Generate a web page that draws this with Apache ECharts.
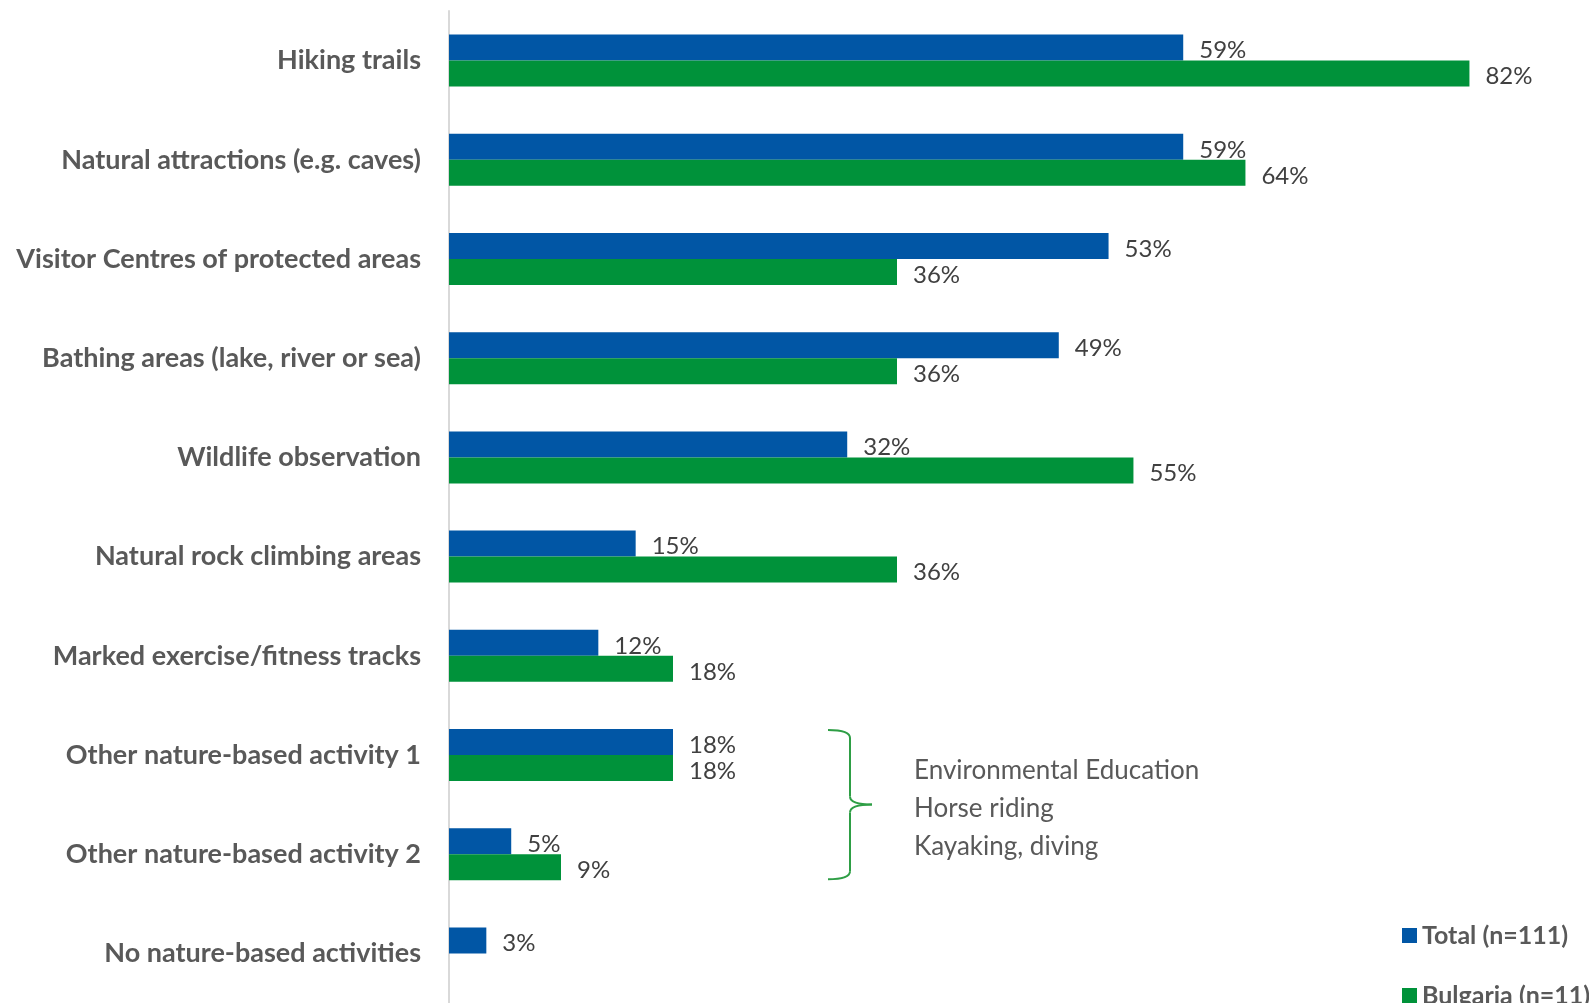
<!DOCTYPE html>
<html>
<head>
<meta charset="utf-8">
<style>
  html, body { margin: 0; padding: 0; background: #fff; }
  #chart { width: 1589px; height: 1003px; }
</style>
<script src="https://cdn.jsdelivr.net/npm/echarts@6/dist/echarts.min.js"></script>
</head>
<body>
<div id="chart"></div>
<script>
const categories = [
  'Hiking trails',
  'Natural attractions (e.g. caves)',
  'Visitor Centres of protected areas',
  'Bathing areas (lake, river or sea)',
  'Wildlife observation',
  'Natural rock climbing areas',
  'Marked exercise/fitness tracks',
  'Other nature-based activity 1',
  'Other nature-based activity 2',
  'No nature-based activities'
];
const totalValues = [59, 59, 53, 49, 32, 15, 12, 18, 5, 3];
const bulgariaValues = [82, 64, 36, 36, 55, 36, 18, 18, 9, null];
const seriesNames = ['Total (n=111)', 'Bulgaria (n=11)'];
const otherActivities = ['Environmental Education', 'Horse riding', 'Kayaking, diving'];

const BLUE = '#0156A5';
const GREEN = '#00923A';
const FONT = 'Lato, "Open Sans", sans-serif';

const chart = echarts.init(document.getElementById('chart'), null, { renderer: 'canvas' });

const valueLabel = {
  show: true,
  position: 'right',
  distance: 16,
  offset: [0, 3],
  fontFamily: FONT,
  fontSize: 24,
  color: '#404040',
  formatter: p => p.value == null ? '' : p.value + '%'
};

const legendText = { fontFamily: FONT, fontWeight: 'bold', fontSize: 25, color: '#595959' };
const legendCommon = {
  orient: 'vertical',
  left: 1397,
  itemWidth: 15,
  itemHeight: 15,
  itemGap: 6,
  icon: 'rect',
  textStyle: legendText
};

chart.setOption({
  animation: false,
  backgroundColor: '#fff',
  grid: { left: 449, top: 11, width: 1120, height: 1002 },
  xAxis: {
    type: 'value', min: 0, max: 90,
    show: false
  },
  yAxis: {
    type: 'category',
    inverse: true,
    data: categories,
    axisLine: { show: true, lineStyle: { color: '#D9D9D9', width: 2 } },
    axisTick: { show: false },
    axisLabel: {
      margin: 28,
      fontFamily: FONT,
      fontWeight: 'bold',
      fontSize: 27,
      color: '#595959'
    }
  },
  legend: [
    Object.assign({ top: 918, data: [seriesNames[0]] }, legendCommon),
    Object.assign({ top: 978, data: [seriesNames[1]] }, legendCommon)
  ],
  series: [
    {
      name: seriesNames[0], type: 'bar', data: totalValues,
      itemStyle: { color: BLUE },
      barWidth: 26, barGap: '0%',
      label: valueLabel
    },
    {
      name: seriesNames[1], type: 'bar', data: bulgariaValues,
      itemStyle: { color: GREEN },
      barWidth: 26, barGap: '0%',
      label: valueLabel
    }
  ]
});

// Brace grouping the two "other activity" rows, with their listed activities
const yA = chart.convertToPixel({ yAxisIndex: 0 }, categories[7]);
const yB = chart.convertToPixel({ yAxisIndex: 0 }, categories[8]);
const braceTop = yA - 25, braceBot = yB + 25, braceMid = (braceTop + braceBot) / 2;
const xL = 828, xV = 850, xT = 872;
const braceStyle = { stroke: '#2E9E45', lineWidth: 2, fill: null };
const curve = (x1, y1, cx, cy, x2, y2) => ({
  type: 'bezierCurve',
  shape: { x1, y1, x2, y2, cpx1: cx, cpy1: cy },
  style: braceStyle
});
const seg = (x1, y1, x2, y2) => ({
  type: 'line',
  shape: { x1, y1, x2, y2 },
  style: braceStyle
});

const braceParts = [
  curve(xL, braceTop, xV, braceTop, xV, braceTop + 8),
  seg(xV, braceTop + 8, xV, braceMid - 8),
  curve(xV, braceMid - 8, xV, braceMid, xT, braceMid),
  curve(xV, braceMid + 8, xV, braceMid, xT, braceMid),
  seg(xV, braceMid + 8, xV, braceBot - 8),
  curve(xV, braceBot - 8, xV, braceBot, xL, braceBot)
];

const activityTexts = otherActivities.map((t, i) => ({
  type: 'text',
  left: 914,
  top: braceMid - 47 + i * 38,
  style: { text: t, fontFamily: FONT, fontSize: 26, fill: '#595959' }
}));

chart.setOption({
  graphic: [...braceParts, ...activityTexts]
});
</script>
</body>
</html>
